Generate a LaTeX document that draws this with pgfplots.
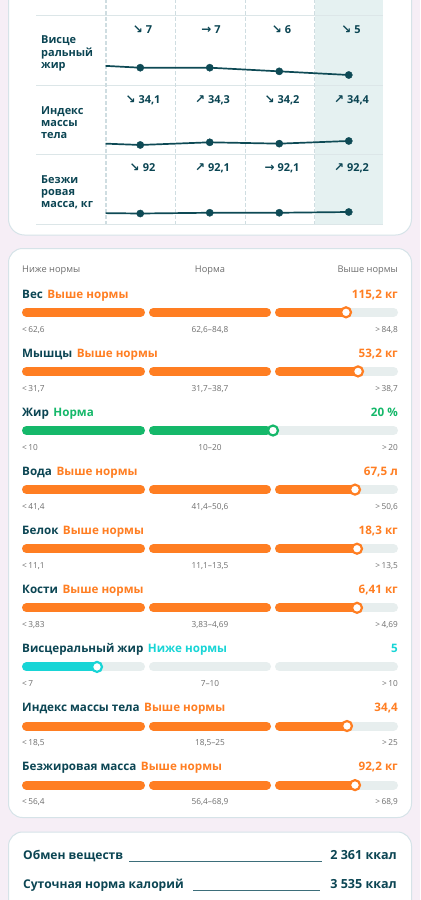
\documentclass[border=0pt]{standalone}
\usepackage{fontspec}
\usepackage{pgfplots}
\pgfplotsset{compat=1.18}
\setmainfont{Open Sans}
\newfontfamily\arr{DejaVu Sans}
\definecolor{pagebg}{HTML}{F6EEF6}
\definecolor{cardborder}{HTML}{D6E3E8}
\definecolor{teal}{HTML}{0B4553}
\definecolor{gridc}{HTML}{DCE6E8}
\definecolor{dashc}{HTML}{CFDDE1}
\definecolor{shadec}{HTML}{E5F1F1}
\definecolor{orng}{HTML}{FF7E22}
\definecolor{grn}{HTML}{15B86A}
\definecolor{cyn}{HTML}{18D5D6}
\definecolor{trk}{HTML}{E7EEEE}
\definecolor{grey}{HTML}{6E6E6E}
\definecolor{linec}{HTML}{0E4A55}
\definecolor{rulec}{HTML}{3D6E7A}
\newcommand{\fs}[1]{\fontsize{#1}{#1}\selectfont}
% slider track
\newcommand{\track}[1]{%
\addplot[trk,line width=9bp,line cap=round] coordinates {(26.5,#1)(140.5,#1)};
\addplot[trk,line width=9bp,line cap=round] coordinates {(153.5,#1)(266.5,#1)};
\addplot[trk,line width=9bp,line cap=round] coordinates {(279.5,#1)(393.5,#1)};}
\newcommand{\knob}[3]{%
\addplot[only marks,mark=*,mark size=5bp,mark options={fill=white,draw=#2,line width=2.2bp}] coordinates {(#3,#1)};}
% fill up to third segment
\newcommand{\fillthree}[3]{%
\addplot[#2,line width=9bp,line cap=round] coordinates {(26.5,#1)(140.5,#1)};
\addplot[#2,line width=9bp,line cap=round] coordinates {(153.5,#1)(266.5,#1)};
\addplot[#2,line width=9bp,line cap=round] coordinates {(279.5,#1)(#3,#1)};
\knob{#1}{#2}{#3}}
\newcommand{\rowtitle}[5]{% y name status color value
\node[anchor=base west,inner sep=0,font=\bfseries\fs{11.7}] at (axis cs:22,#1) {\textcolor{teal}{#2}\hspace{4.5bp}\textcolor{#4}{#3}};
\node[anchor=base east,inner sep=0,font=\bfseries\fs{11.7},text=#4] at (axis cs:398,#1) {#5};}
\newcommand{\ranges}[4]{%
\node[anchor=base west,inner sep=0,font=\fs{8.3},text=grey] at (axis cs:22,#1) {<\,#2};
\node[anchor=base,inner sep=0,font=\fs{8.3},text=grey] at (axis cs:210,#1) {#3};
\node[anchor=base east,inner sep=0,font=\fs{8.3},text=grey] at (axis cs:398,#1) {>\,#4};}
\newcommand{\val}[3]{% x y text
\node[anchor=base,inner sep=0,font=\bfseries\fs{11},text=teal] at (axis cs:#1,#2) {#3};}
\newcommand{\ar}[1]{{\arr\bfseries\fs{12}#1}\hspace{3bp}}
\newcommand{\rl}[2]{%
\node[anchor=base west,inner sep=0,font=\bfseries\fs{11},text=teal] at (axis cs:41,#1) {#2};}
\begin{document}
\begin{tikzpicture}
\begin{axis}[at={(0,0)},anchor=north west,scale only axis,width=420bp,height=900bp,
  xmin=0,xmax=420,ymin=0,ymax=900,y dir=reverse,hide axis]
\fill[pagebg] (axis cs:0,0) rectangle (axis cs:420,900);
% ---------- card 1
\filldraw[fill=white,draw=cardborder,line width=1bp,rounded corners=16bp] (axis cs:8.5,-40) rectangle (axis cs:411.5,235);
\fill[shadec] (axis cs:314.5,-1) rectangle (axis cs:383,224);
\pgfplotsinvokeforeach{15,85,154,224}{\draw[gridc,line width=1bp] (axis cs:36,#1) -- (axis cs:383,#1);}
\pgfplotsinvokeforeach{106,175.5,245.5,314.5}{\draw[dashc,line width=1.2bp,dash pattern=on 4bp off 2bp] (axis cs:#1,-1) -- (axis cs:#1,224);}
\rl{43.5}{Висце}\rl{56}{ральный}\rl{68.5}{жир}
\rl{114.5}{Индекс}\rl{126.5}{массы}\rl{138.5}{тела}
\rl{183.5}{Безжи}\rl{195.5}{ровая}\rl{207.5}{масса, кг}
\val{142.5}{33}{\ar{↘}7}
\val{211}{33}{\ar{→}7}
\val{281.5}{33}{\ar{↘}6}
\val{351}{33}{\ar{↘}5}
\val{143}{103}{\ar{↘}34,1}
\val{212.5}{103}{\ar{↗}34,3}
\val{282}{103}{\ar{↘}34,2}
\val{351.5}{103}{\ar{↗}34,4}
\val{142.5}{171.5}{\ar{↘}92}
\val{212.5}{171.5}{\ar{↗}92,1}
\val{282}{171.5}{\ar{→}92,1}
\val{351.5}{171.5}{\ar{↗}92,2}
% ---------- card 2
\filldraw[fill=white,draw=cardborder,line width=1bp,rounded corners=14bp] (axis cs:8.5,248.5) rectangle (axis cs:411.5,817.5);
\node[anchor=base west,inner sep=0,font=\fs{9.3},text=grey] at (axis cs:22,272) {Ниже нормы};
\node[anchor=base,inner sep=0,font=\fs{9.3},text=grey] at (axis cs:210,272) {Норма};
\node[anchor=base east,inner sep=0,font=\fs{9.3},text=grey] at (axis cs:398,272) {Выше нормы};
% rows
\rowtitle{298}{Вес}{Выше нормы}{orng}{115,2 кг}
\track{312.3}\fillthree{312.3}{orng}{346}
\ranges{332}{62,6}{62,6–84,8}{84,8}
\rowtitle{357.1}{Мышцы}{Выше нормы}{orng}{53,2 кг}
\track{371.4}\fillthree{371.4}{orng}{358}
\ranges{391.1}{31,7}{31,7–38,7}{38,7}
\rowtitle{416.2}{Жир}{Норма}{grn}{20 \%}
\track{430.5}
\addplot[grn,line width=9bp,line cap=round] coordinates {(26.5,430.5)(140.5,430.5)};
\addplot[grn,line width=9bp,line cap=round] coordinates {(153.5,430.5)(266.5,430.5)};
\knob{430.5}{grn}{273}
\ranges{450.2}{10}{10–20}{20}
\rowtitle{475.3}{Вода}{Выше нормы}{orng}{67,5 л}
\track{489.6}\fillthree{489.6}{orng}{355}
\ranges{509.3}{41,4}{41,4–50,6}{50,6}
\rowtitle{534.4}{Белок}{Выше нормы}{orng}{18,3 кг}
\track{548.7}\fillthree{548.7}{orng}{357}
\ranges{568.4}{11,1}{11,1–13,5}{13,5}
\rowtitle{593.5}{Кости}{Выше нормы}{orng}{6,41 кг}
\track{607.8}\fillthree{607.8}{orng}{357}
\ranges{627.5}{3,83}{3,83–4,69}{4,69}
\rowtitle{652.6}{Висцеральный жир}{Ниже нормы}{cyn}{5}
\track{666.9}
\addplot[cyn,line width=9bp,line cap=round] coordinates {(26.5,666.9)(97,666.9)};
\knob{666.9}{cyn}{97}
\ranges{686.6}{7}{7–10}{10}
\rowtitle{711.7}{Индекс массы тела}{Выше нормы}{orng}{34,4}
\track{726}\fillthree{726}{orng}{347}
\ranges{745.7}{18,5}{18,5–25}{25}
\rowtitle{770.8}{Безжировая масса}{Выше нормы}{orng}{92,2 кг}
\track{785.1}\fillthree{785.1}{orng}{355}
\ranges{804.8}{56,4}{56,4–68,9}{68,9}
% ---------- card 3
\filldraw[fill=white,draw=cardborder,line width=1bp,rounded corners=14bp] (axis cs:8.5,832) rectangle (axis cs:411.5,940);
\node[anchor=base west,inner sep=0,font=\bfseries\fs{12.1},text=teal] at (axis cs:23,859) {Обмен веществ};
\draw[rulec,line width=1bp] (axis cs:129,861) -- (axis cs:322,861);
\node[anchor=base east,inner sep=0,font=\bfseries\fs{12.6},text=teal] at (axis cs:397,859) {2 361 ккал};
\node[anchor=base west,inner sep=0,font=\bfseries\fs{12.1},text=teal] at (axis cs:23,888) {Суточная норма калорий};
\draw[rulec,line width=1bp] (axis cs:193,890) -- (axis cs:320,890);
\node[anchor=base east,inner sep=0,font=\bfseries\fs{12.6},text=teal] at (axis cs:397,888) {3 535 ккал};
\end{axis}
% ---------- mini line charts
\begin{axis}[at={(105.5bp,-56.75bp)},anchor=north west,scale only axis,width=278bp,height=25.55bp,
  xmin=-0.5,xmax=3.5,ymin=3,ymax=10,hide axis,clip mode=individual]
\addplot[linec,line width=1.7bp] coordinates {(-1,8)(0,7)(1,7)(2,6)(3,5)};
\addplot[only marks,mark=*,mark size=3.6bp,linec] coordinates {(0,7)(1,7)(2,6)(3,5)};
\end{axis}
\begin{axis}[at={(105.5bp,-133bp)},anchor=north west,scale only axis,width=278bp,height=19.95bp,
  xmin=-0.5,xmax=3.5,ymin=33.5,ymax=35,hide axis,clip mode=individual]
\addplot[linec,line width=1.7bp] coordinates {(-1,34.3)(0,34.1)(1,34.3)(2,34.2)(3,34.4)};
\addplot[only marks,mark=*,mark size=3.6bp,linec] coordinates {(0,34.1)(1,34.3)(2,34.2)(3,34.4)};
\end{axis}
\begin{axis}[at={(105.5bp,-206bp)},anchor=north west,scale only axis,width=278bp,height=15bp,
  xmin=-0.5,xmax=3.5,ymin=91,ymax=93,hide axis,clip mode=individual]
\addplot[linec,line width=1.7bp] coordinates {(-1,92.1)(0,92)(1,92.1)(2,92.1)(3,92.2)};
\addplot[only marks,mark=*,mark size=3.6bp,linec] coordinates {(0,92)(1,92.1)(2,92.1)(3,92.2)};
\end{axis}
\end{tikzpicture}
\end{document}
